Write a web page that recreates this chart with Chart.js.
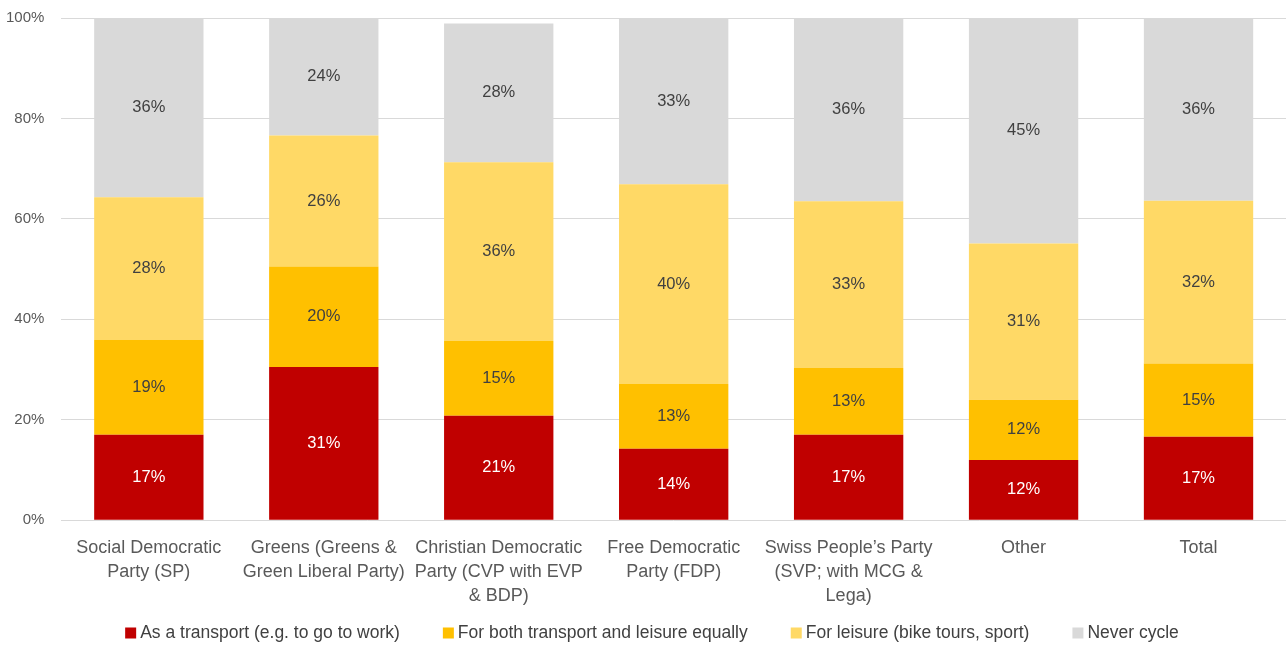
<!DOCTYPE html>
<html>
<head>
<meta charset="utf-8">
<script src="https://cdn.jsdelivr.net/npm/chart.js@4"></script>
<style>
    body { margin: 0; background: #fff; }
    #wrap { width: 1286px; height: 648px; }
</style>
</head>
<body>
<div id="wrap"><canvas id="chart" width="1286" height="648"></canvas></div>
<script>
// Cycling habits by party (share of respondents, %)
const categories = [
    ['Social Democratic', 'Party (SP)'],
    ['Greens (Greens &', 'Green Liberal Party)'],
    ['Christian Democratic', 'Party (CVP with EVP', '& BDP)'],
    ['Free Democratic', 'Party (FDP)'],
    ['Swiss People\u2019s Party', '(SVP; with MCG &', 'Lega)'],
    'Other',
    'Total'
];
const transport = [17.0, 30.5, 20.8, 14.2, 17.0, 12.0, 16.6];
const bothEqually = [18.9, 20.0, 14.9, 12.9, 13.3, 12.0, 14.6];
const leisure = [28.4, 26.1, 35.6, 39.8, 33.2, 31.1, 32.4];
const neverCycle = [35.7, 23.6, 27.6, 33.1, 36.4, 44.9, 36.4];
const yTicks = [0, 20, 40, 60, 80, 100];

const FONT = "'Liberation Sans', Arial, sans-serif";

// draws the rounded % inside each segment
const segmentLabels = {
    id: 'segmentLabels',
    afterDatasetsDraw(chart) {
        const ctx = chart.ctx;
        ctx.save();
        ctx.font = `16.5px ${FONT}`;
        ctx.textAlign = 'center';
        ctx.textBaseline = 'middle';
        chart.data.datasets.forEach((ds, i) => {
            const meta = chart.getDatasetMeta(i);
            meta.data.forEach((bar, j) => {
                ctx.fillStyle = ds.labelColor;
                ctx.fillText(Math.round(ds.data[j]) + '%', bar.x, (bar.y + bar.base) / 2);
            });
        });
        ctx.restore();
    }
};

// legend row at the bottom, spaced like the original (small box, tight gap to text)
const bottomLegend = {
    id: 'bottomLegend',
    afterDraw(chart) {
        const ctx = chart.ctx;
        const box = 11, gapText = 4, gapItem = 43, y = 633;
        ctx.save();
        ctx.font = `17.5px ${FONT}`;
        ctx.textBaseline = 'middle';
        const items = chart.data.datasets.map(ds => ({
            text: ds.label,
            color: ds.backgroundColor,
            w: ctx.measureText(ds.label).width
        }));
        const total = items.reduce((s, it) => s + box + gapText + it.w, 0) + gapItem * (items.length - 1);
        let x = (chart.width - total) / 2 + 9;
        items.forEach(it => {
            ctx.fillStyle = it.color;
            ctx.fillRect(x, y - box / 2, box, box);
            x += box + gapText;
            ctx.fillStyle = '#404040';
            ctx.fillText(it.text, x, y);
            x += it.w + gapItem;
        });
        ctx.restore();
    }
};

const makeSet = (label, data, color, labelColor) => ({
    label,
    data,
    backgroundColor: color,
    labelColor,
    borderWidth: 0,
    barPercentage: 0.625,
    categoryPercentage: 1
});

new Chart(document.getElementById('chart'), {
    type: 'bar',
    data: {
        labels: categories,
        datasets: [
            makeSet('As a transport (e.g. to go to work)', transport, '#c00000', '#ffffff'),
            makeSet('For both transport and leisure equally', bothEqually, '#ffc000', '#404040'),
            makeSet('For leisure (bike tours, sport)', leisure, '#ffd966', '#404040'),
            makeSet('Never cycle', neverCycle, '#d9d9d9', '#404040')
        ]
    },
    options: {
        responsive: false,
        animation: false,
        layout: { padding: { top: 0, right: 0, bottom: 32, left: -3 } },
        plugins: {
            tooltip: { enabled: false },
            legend: { display: false }
        },
        scales: {
            x: {
                stacked: true,
                grid: { display: false },
                border: { display: false },
                ticks: {
                    color: '#595959',
                    font: { family: FONT, size: 18, lineHeight: 1.33 },
                    maxRotation: 0,
                    autoSkip: false,
                    padding: 8
                }
            },
            y: {
                stacked: true,
                min: 0,
                max: 100,
                afterBuildTicks: axis => { axis.ticks = yTicks.map(v => ({ value: v })); },
                grid: { color: '#d9d9d9', drawTicks: true, tickLength: 8, tickColor: 'rgba(0,0,0,0)' },
                border: { display: false },
                ticks: {
                    color: '#595959',
                    font: { family: FONT, size: 15 },
                    padding: 9,
                    callback: v => v + '%'
                }
            }
        }
    },
    plugins: [segmentLabels, bottomLegend]
});
</script>
</body>
</html>
